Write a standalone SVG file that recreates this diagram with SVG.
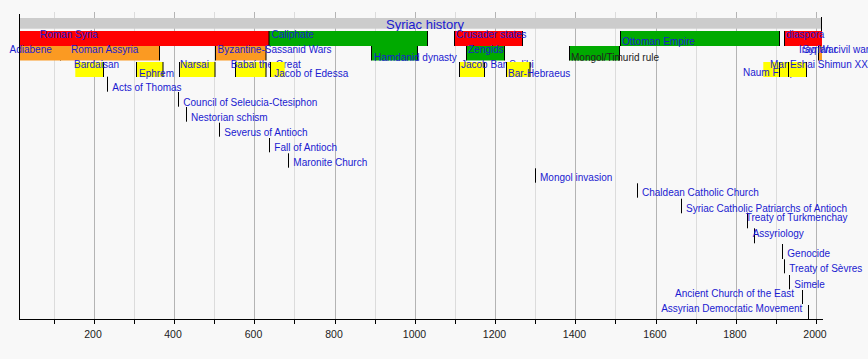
<svg xmlns="http://www.w3.org/2000/svg" width="868" height="359" viewBox="0 0 868 359">
<style>
.t{font-family:"Liberation Sans",Arial,sans-serif;font-size:10px;fill:#1a1ad0}
.big{font-size:13px}
.k{fill:#222}
.ax{font-family:"Liberation Sans",Arial,sans-serif;font-size:10.5px;fill:#222;text-anchor:middle}
.gmin{stroke:#dcdcdc;stroke-width:1}
.gmaj{stroke:#b4b4b4;stroke-width:1}
.e{stroke:#000;stroke-width:1}
.red{fill:#ff0000}.grn{fill:#00aa00}.org{fill:#fb9a22}.yel{fill:#ffff00}
</style>
<rect width="868" height="359" fill="#f8f8f8"/>
<g id="grid">
<line class="gmin" x1="54.5" y1="12" x2="54.5" y2="319"/>
<line class="gmaj" x1="94.5" y1="12" x2="94.5" y2="319"/>
<line class="gmin" x1="134.5" y1="12" x2="134.5" y2="319"/>
<line class="gmaj" x1="174.5" y1="12" x2="174.5" y2="319"/>
<line class="gmin" x1="214.5" y1="12" x2="214.5" y2="319"/>
<line class="gmaj" x1="254.5" y1="12" x2="254.5" y2="319"/>
<line class="gmin" x1="294.5" y1="12" x2="294.5" y2="319"/>
<line class="gmaj" x1="335.5" y1="12" x2="335.5" y2="319"/>
<line class="gmin" x1="375.5" y1="12" x2="375.5" y2="319"/>
<line class="gmaj" x1="415.5" y1="12" x2="415.5" y2="319"/>
<line class="gmin" x1="455.5" y1="12" x2="455.5" y2="319"/>
<line class="gmaj" x1="495.5" y1="12" x2="495.5" y2="319"/>
<line class="gmin" x1="535.5" y1="12" x2="535.5" y2="319"/>
<line class="gmaj" x1="575.5" y1="12" x2="575.5" y2="319"/>
<line class="gmin" x1="615.5" y1="12" x2="615.5" y2="319"/>
<line class="gmaj" x1="656.5" y1="12" x2="656.5" y2="319"/>
<line class="gmin" x1="696.5" y1="12" x2="696.5" y2="319"/>
<line class="gmaj" x1="736.5" y1="12" x2="736.5" y2="319"/>
<line class="gmin" x1="776.5" y1="12" x2="776.5" y2="319"/>
<line class="gmaj" x1="816.5" y1="12" x2="816.5" y2="319"/>
</g>
<g id="title">
<rect x="20" y="18" width="802" height="10.7" fill="#cccccc"/>
<line class="e" x1="821.5" y1="17" x2="821.5" y2="46"/>
<text class="t big" x="425" y="28.5" text-anchor="middle">Syriac history</text>
</g>
<g id="row1">
<g id="roman-syria"><rect class="red" x="20" y="31" width="249" height="15"/><text class="t" x="40" y="38">Roman Syria</text></g>
<g id="caliphate"><rect class="grn" x="269" y="31" width="159" height="15"/><line class="e" x1="269" y1="31" x2="269" y2="46"/><line class="e" x1="427.5" y1="31" x2="427.5" y2="46"/><text class="t" x="271.5" y="38">Caliphate</text></g>
<g id="crusader-states"><rect class="red" x="454.3" y="31" width="68" height="15"/><line class="e" x1="454.5" y1="31" x2="454.5" y2="46"/><line class="e" x1="522.5" y1="31" x2="522.5" y2="46"/><text class="t" x="456" y="38">Crusader states</text></g>
<g id="ottoman-empire"><rect class="grn" x="620.3" y="31" width="159.2" height="15"/><line class="e" x1="620.5" y1="31" x2="620.5" y2="46"/><line class="e" x1="779.5" y1="31" x2="779.5" y2="46"/><text class="t" x="622" y="45">Ottoman Empire</text></g>
<g id="diaspora"><rect class="red" x="784.3" y="31" width="37.7" height="15"/><line class="e" x1="784.5" y1="31" x2="784.5" y2="46"/><text class="t" x="786" y="38">diaspora</text></g>
</g>
<g id="row2">
<g id="adiabene"><rect class="org" x="20" y="46" width="40" height="14.5"/><line class="e" x1="60.5" y1="46" x2="60.5" y2="60.5"/><text class="t" x="9.5" y="52.7">Adiabene</text></g>
<g id="roman-assyria"><rect class="org" x="60" y="46" width="99.3" height="14.5"/><line class="e" x1="159.5" y1="46" x2="159.5" y2="60.5"/><text class="t" x="71" y="52.7">Roman Assyria</text></g>
<g id="byzantine-sassanid"><rect class="org" x="215.7" y="46" width="50.3" height="14.5"/><line class="e" x1="215.5" y1="46" x2="215.5" y2="60.5"/><line class="e" x1="266" y1="46" x2="266" y2="60.5"/><text class="t" x="217.5" y="52.7">Byzantine-Sassanid Wars</text></g>
<g id="hamdanid"><rect class="grn" x="371.7" y="46" width="45.8" height="14.5"/><line class="e" x1="371.5" y1="46" x2="371.5" y2="60.5"/><line class="e" x1="417.5" y1="46" x2="417.5" y2="60.5"/><text class="t" x="374" y="60.5">Hamdanid dynasty</text></g>
<g id="zengids"><rect class="grn" x="466.7" y="46" width="37.6" height="14.5"/><line class="e" x1="466.5" y1="46" x2="466.5" y2="60.5"/><line class="e" x1="504.5" y1="46" x2="504.5" y2="60.5"/><text class="t" x="468" y="52.7">Zengids</text></g>
<g id="mongol-timurid"><rect class="grn" x="569.3" y="46" width="50" height="14.5"/><line class="e" x1="569.5" y1="46" x2="569.5" y2="60.5"/><line class="e" x1="619.5" y1="46" x2="619.5" y2="60.5"/><text class="t k" x="571" y="60.5">Mongol/Timurid rule</text></g>
<g id="iraq-war"><rect class="org" x="818" y="46" width="4" height="14.5"/><line class="e" x1="818.5" y1="46" x2="818.5" y2="60.5"/><text class="t" x="799" y="52.5">Iraq War</text></g>
<g id="syrian-civil-war"><text class="t" x="802.5" y="52.5">Syrian civil war</text></g>
</g>
<g id="row3">
<g id="bardaisan"><rect class="yel" x="75.3" y="62" width="28" height="15"/><line class="e" x1="103.5" y1="62" x2="103.5" y2="77"/><text class="t" x="74" y="67.7">Bardaisan</text></g>
<g id="ephrem"><rect class="yel" x="136.3" y="62" width="26.7" height="15"/><line class="e" x1="136.5" y1="62" x2="136.5" y2="77"/><line class="e" x1="163" y1="62" x2="163" y2="77"/><text class="t" x="139" y="77">Ephrem</text></g>
<g id="narsai"><rect class="yel" x="179" y="62" width="36" height="15"/><line class="e" x1="179.5" y1="62" x2="179.5" y2="77"/><line class="e" x1="215" y1="62" x2="215" y2="77"/><text class="t" x="180" y="67.7">Narsai</text></g>
<g id="babai"><rect class="yel" x="235.7" y="62" width="30.3" height="15"/><line class="e" x1="235.5" y1="62" x2="235.5" y2="77"/><line class="e" x1="266" y1="62" x2="266" y2="77"/><text class="t" x="230.7" y="67.7">Babai the Great</text></g>
<g id="jacob-edessa"><rect class="yel" x="270.7" y="62" width="14" height="15"/><line class="e" x1="270.5" y1="62" x2="270.5" y2="77"/><text class="t" x="274.3" y="77">Jacob of Edessa</text></g>
<g id="jacob-bar-salibi"><rect class="yel" x="459.3" y="62" width="25" height="15"/><line class="e" x1="459.5" y1="62" x2="459.5" y2="77"/><line class="e" x1="484.5" y1="62" x2="484.5" y2="77"/><text class="t" x="461" y="67.7">Jacob Bar-Salibi</text></g>
<g id="bar-hebraeus"><rect class="yel" x="506.7" y="62" width="23.3" height="15"/><line class="e" x1="506.5" y1="62" x2="506.5" y2="77"/><line class="e" x1="530" y1="62" x2="530" y2="77"/><text class="t" x="508" y="77">Bar-Hebraeus</text></g>
<g id="naum-faiq"><rect class="yel" x="763.3" y="62" width="25.4" height="15"/><line class="e" x1="788.5" y1="62" x2="788.5" y2="77"/><text class="t" x="743" y="75.5">Naum Faiq</text></g>
<g id="mar-eshai"><rect class="yel" x="779" y="62" width="27.7" height="15"/><line class="e" x1="779.5" y1="62" x2="779.5" y2="77"/><line class="e" x1="806.5" y1="62" x2="806.5" y2="77"/><line class="e" x1="788.5" y1="62" x2="788.5" y2="77"/><text class="t" x="770" y="67.7">Mar Eshai Shimun XXIII</text></g>
</g>
<g id="connectors">
<line class="e" x1="107.5" y1="76.7" x2="107.5" y2="91.7"/>
<line class="e" x1="178.5" y1="92" x2="178.5" y2="106.7"/>
<line class="e" x1="186.5" y1="107" x2="186.5" y2="121.7"/>
<line class="e" x1="219.5" y1="122.7" x2="219.5" y2="136.7"/>
<line class="e" x1="269.5" y1="138" x2="269.5" y2="152.3"/>
<line class="e" x1="288.5" y1="153.3" x2="288.5" y2="167.7"/>
<line class="e" x1="535.5" y1="168.3" x2="535.5" y2="182.7"/>
<line class="e" x1="637.5" y1="183.3" x2="637.5" y2="197.7"/>
<line class="e" x1="681.5" y1="198.7" x2="681.5" y2="213.3"/>
<line class="e" x1="747.5" y1="212.7" x2="747.5" y2="228.3"/>
<line class="e" x1="754.5" y1="228.3" x2="754.5" y2="243.3"/>
<line class="e" x1="782.5" y1="244" x2="782.5" y2="259"/>
<line class="e" x1="784.5" y1="259.3" x2="784.5" y2="273.3"/>
<line class="e" x1="789.5" y1="275" x2="789.5" y2="289.3"/>
<line class="e" x1="802.5" y1="290" x2="802.5" y2="304"/>
<line class="e" x1="808.5" y1="305" x2="808.5" y2="319"/>
</g>
<g id="events">
<g id="acts-of-thomas"><text class="t" x="112.3" y="90.5">Acts of Thomas</text></g>
<g id="council"><text class="t" x="183.3" y="105.5">Council of Seleucia-Ctesiphon</text></g>
<g id="nestorian"><text class="t" x="191" y="120.5">Nestorian schism</text></g>
<g id="severus"><text class="t" x="224.3" y="135.5">Severus of Antioch</text></g>
<g id="fall-antioch"><text class="t" x="274.3" y="151">Fall of Antioch</text></g>
<g id="maronite"><text class="t" x="293.3" y="166">Maronite Church</text></g>
<g id="mongol-invasion"><text class="t" x="540" y="181">Mongol invasion</text></g>
<g id="chaldean"><text class="t" x="642" y="196">Chaldean Catholic Church</text></g>
<g id="syriac-catholic"><text class="t" x="686" y="211.5">Syriac Catholic Patriarchs of Antioch</text></g>
<g id="turkmenchay"><text class="t" x="745.7" y="221.3">Treaty of Turkmenchay</text></g>
<g id="assyriology"><text class="t" x="752.7" y="236.5">Assyriology</text></g>
<g id="genocide"><text class="t" x="787.3" y="256.7">Genocide</text></g>
<g id="sevres"><text class="t" x="789.3" y="271.7">Treaty of Sèvres</text></g>
<g id="simele"><text class="t" x="794.3" y="287.5">Simele</text></g>
<g id="ancient-church"><text class="t" x="794" y="296.7" text-anchor="end">Ancient Church of the East</text></g>
<g id="adm"><text class="t" x="802.3" y="311.7" text-anchor="end">Assyrian Democratic Movement</text></g>
</g>
<g id="axis">
<line class="e" x1="19.5" y1="14" x2="19.5" y2="319.5"/>
<line class="e" x1="19" y1="319.5" x2="823" y2="319.5"/>
<path class="e" fill="none" d="M54.5 319v5M94.5 319v5M134.5 319v5M174.5 319v5M214.5 319v5M254.5 319v5M294.5 319v5M335.5 319v5M375.5 319v5M415.5 319v5M455.5 319v5M495.5 319v5M535.5 319v5M575.5 319v5M615.5 319v5M656.5 319v5M696.5 319v5M736.5 319v5M776.5 319v5M816.5 319v5"/>
<text class="ax" x="93" y="338">200</text>
<text class="ax" x="173" y="338">400</text>
<text class="ax" x="253.5" y="338">600</text>
<text class="ax" x="334" y="338">800</text>
<text class="ax" x="414.5" y="338">1000</text>
<text class="ax" x="494.5" y="338">1200</text>
<text class="ax" x="574.5" y="338">1400</text>
<text class="ax" x="655" y="338">1600</text>
<text class="ax" x="735" y="338">1800</text>
<text class="ax" x="815" y="338">2000</text>
</g>
</svg>
